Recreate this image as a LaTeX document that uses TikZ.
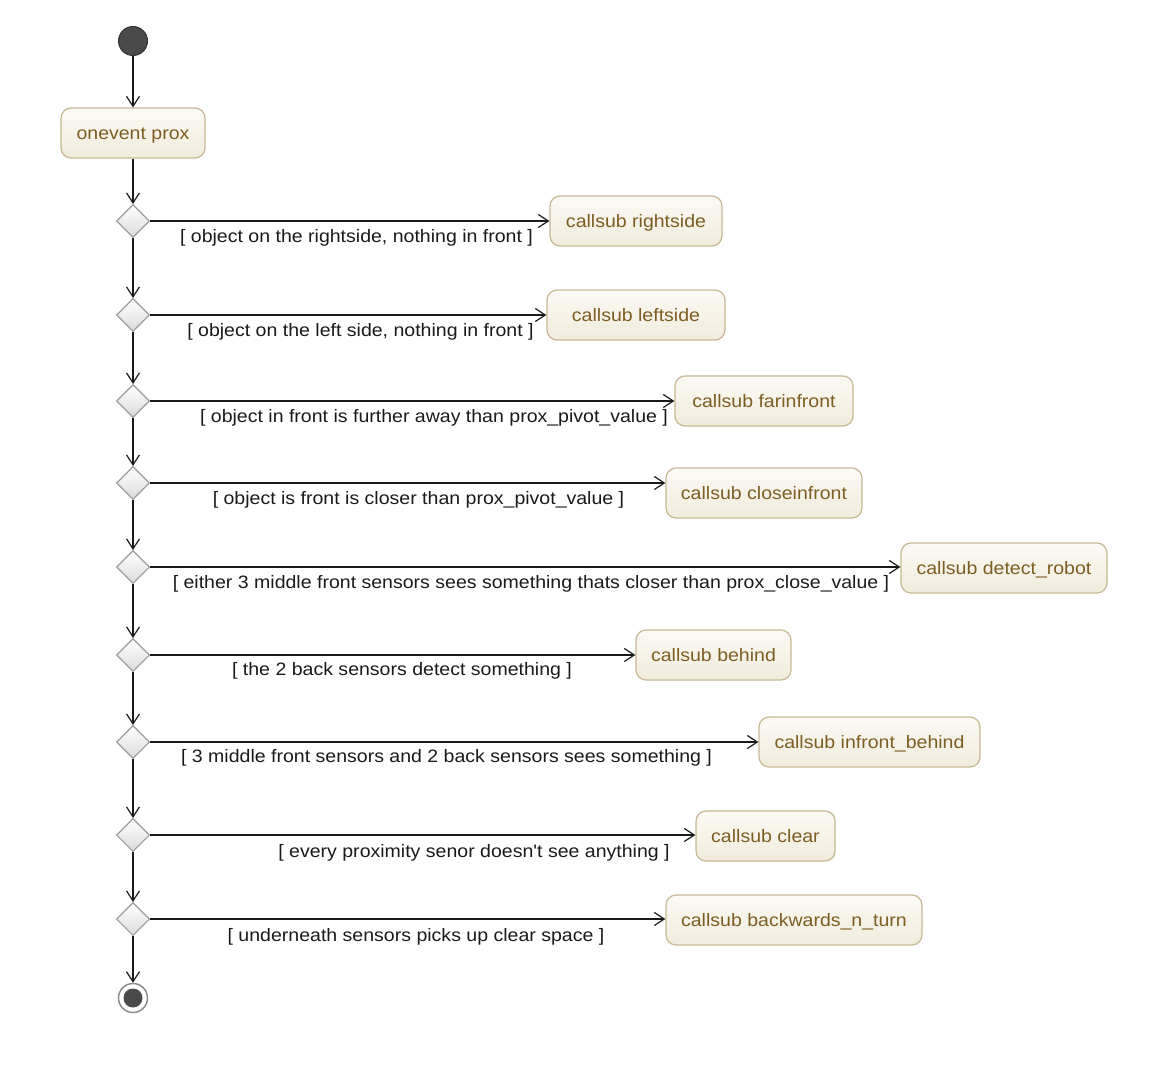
\documentclass[tikz,border=0pt]{standalone}
\usepackage{fontspec}
\setmainfont[FakeStretch=1.085, Ligatures=TeXOff]{Liberation Sans}
\usetikzlibrary{arrows.meta, shapes.geometric}
\definecolor{ink}{HTML}{1A1A1A}
\definecolor{actline}{HTML}{C6B895}
\definecolor{acttop}{HTML}{FCFAF5}
\definecolor{actbot}{HTML}{F1EBDD}
\definecolor{acttext}{HTML}{7D5E22}
\definecolor{dialine}{HTML}{9C9C9C}
\definecolor{dot}{HTML}{4A4A4A}
\tikzset{
  font=\fontsize{18}{21}\selectfont,
  >={Straight Barb[length=10pt, width=13pt, line width=1.2pt]},
  %
  act/.style={
    draw=actline, line width=1.2pt, top color=acttop, bottom color=actbot,
    rounded corners=10pt, minimum height=50, inner sep=0pt,
    text height=14pt, text depth=1pt, text=acttext, align=center,
  },
  dec/.style={
    diamond, draw=dialine, line width=1.1pt, top color=white,
    bottom color=black!14, minimum width=33, minimum height=33, inner sep=0pt,
  },
  flow/.style={draw=ink, line width=1.2pt, ->},
  guard/.style={text=ink, inner sep=0pt, text height=13pt, text depth=1.5pt},
}

\begin{document}
\begin{tikzpicture}[x=1pt, y=-1pt]
\useasboundingbox (0,0) rectangle (1162,1070);

% ------------------------------------------------------------ start / entry
\node[circle, draw=black!80, line width=1pt, fill=dot, minimum size=29, inner sep=0pt]
  (start) at (133,41) {};
\node[act, minimum width=144] (onevent) at (133,133) {onevent prox};

% --------------------------------------------------------------- decisions
\node[dec] (d1) at (133,221) {};
\node[dec] (d2) at (133,315) {};
\node[dec] (d3) at (133,401) {};
\node[dec] (d4) at (133,483) {};
\node[dec] (d5) at (133,567) {};
\node[dec] (d6) at (133,655) {};
\node[dec] (d7) at (133,742) {};
\node[dec] (d8) at (133,835) {};
\node[dec] (d9) at (133,919) {};

\node[circle, draw=black!45, line width=1.5pt, fill=white, minimum size=29, inner sep=0pt]
  (stop) at (133,998) {};
\node[circle, fill=dot, minimum size=19, inner sep=0pt] (stopdot) at (stop) {};

% ----------------------------------------------------------------- actions
\node[act, minimum width=172] (b1) at (636,221)    {callsub rightside};
\node[act, minimum width=178] (b2) at (636,315)    {callsub leftside};
\node[act, minimum width=178] (b3) at (764,401)    {callsub farinfront};
\node[act, minimum width=196] (b4) at (764,493)    {callsub closeinfront};
\node[act, minimum width=206] (b5) at (1004,568)   {callsub detect\_robot};
\node[act, minimum width=155] (b6) at (713.5,655)  {callsub behind};
\node[act, minimum width=221] (b7) at (869.5,742)  {callsub infront\_behind};
\node[act, minimum width=139] (b8) at (765.5,836)  {callsub clear};
\node[act, minimum width=256] (b9) at (794,920)    {callsub backwards\_n\_turn};

% ------------------------------------------------------------------ guards
\node[guard] (g1) at (356.5,237) {[ object on the rightside, nothing in front ]};
\node[guard] (g2) at (360.5,331) {[ object on the left side, nothing in front ]};
\node[guard] (g3) at (434,417)   {[ object in front is further away than prox\_pivot\_value ]};
\node[guard] (g4) at (418.5,499) {[ object is front is closer than prox\_pivot\_value ]};
\node[guard] (g5) at (531,583)   {[ either 3 middle front sensors sees something thats closer than prox\_close\_value ]};
\node[guard] (g6) at (402,670)   {[ the 2 back sensors detect something ]};
\node[guard] (g7) at (446.5,757) {[ 3 middle front sensors and 2 back sensors sees something ]};
\node[guard] (g8) at (474,852)   {[ every proximity senor doesn't see anything ]};
\node[guard] (g9) at (416,936)   {[ underneath sensors picks up clear space ]};

% ------------------------------------------------------------------- edges
\draw[flow] (start) -- (onevent);
\draw[flow] (onevent) -- (d1);
\foreach \a/\b in {d1/d2,d2/d3,d3/d4,d4/d5,d5/d6,d6/d7,d7/d8,d8/d9,d9/stop}
  { \draw[flow] (\a) -- (\b); }
\foreach \i in {1,...,9}
  { \draw[flow] (d\i.east) -- (d\i.east -| b\i.west); }

\end{tikzpicture}
\end{document}
